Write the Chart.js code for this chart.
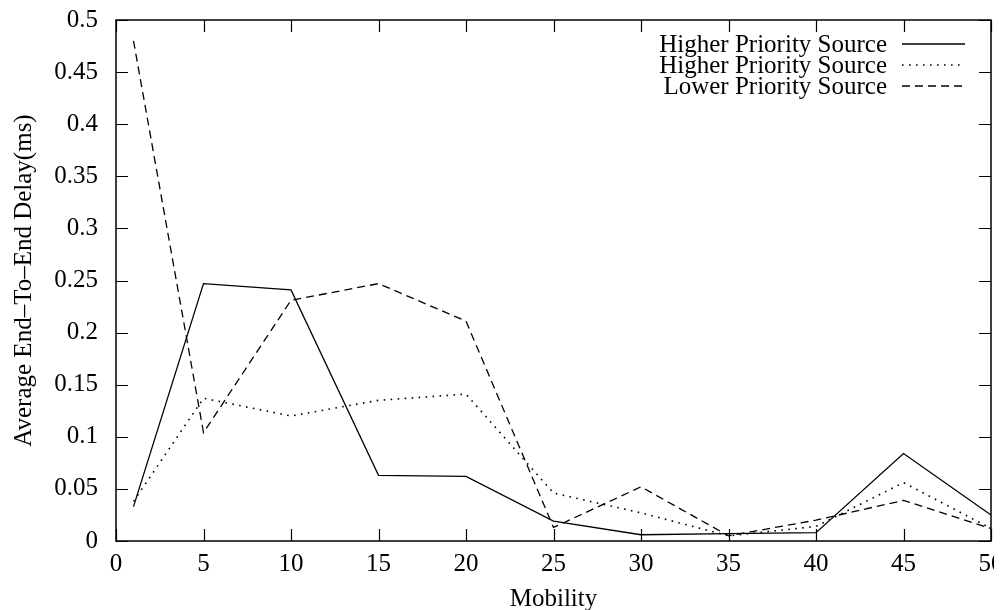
<!DOCTYPE html>
<html>
<head>
<meta charset="utf-8">
<script src="https://cdn.jsdelivr.net/npm/chart.js@4"></script>
<style>
  html, body { margin: 0; padding: 0; background: #fff; }
  #wrap { width: 994px; height: 610px; overflow: hidden; }
</style>
</head>
<body>
<div id="wrap"><canvas id="delayChart" width="994" height="610"></canvas></div>
<script>
const mobility = [1, 5, 10, 15, 20, 25, 30, 35, 40, 45, 50];
const higherSolid = [0.033, 0.247, 0.241, 0.063, 0.062, 0.019, 0.006, 0.007, 0.008, 0.084, 0.025];
const higherDotted = [0.038, 0.137, 0.120, 0.135, 0.141, 0.046, 0.027, 0.005, 0.014, 0.056, 0.012];
const lowerDashed = [0.480, 0.104, 0.231, 0.247, 0.211, 0.013, 0.052, 0.005, 0.020, 0.039, 0.012];
const seriesNames = ['Higher Priority Source', 'Higher Priority Source', 'Lower Priority Source'];
const xTicks = [0, 5, 10, 15, 20, 25, 30, 35, 40, 45, 50];
const yTicks = [0, 0.05, 0.1, 0.15, 0.2, 0.25, 0.3, 0.35, 0.4, 0.45, 0.5];

const FONT = '"Liberation Serif", "DejaVu Serif", serif';
const FONT_SIZE = 25;

function points(ys) {
  return mobility.map((x, i) => ({ x: x, y: ys[i] }));
}

// ticks pointing inward on all four sides of the frame
const innerTicks = {
  id: 'innerTicks',
  afterDraw(chart) {
    const { ctx, chartArea: a, scales } = chart;
    const len = 12;
    ctx.save();
    ctx.strokeStyle = '#000';
    ctx.lineWidth = 1.2;
    ctx.beginPath();
    xTicks.forEach(v => {
      const px = Math.round(scales.x.getPixelForValue(v)) + 0.5;
      ctx.moveTo(px, a.bottom); ctx.lineTo(px, a.bottom - len);
      ctx.moveTo(px, a.top); ctx.lineTo(px, a.top + len);
    });
    yTicks.forEach(v => {
      const py = Math.round(scales.y.getPixelForValue(v)) + 0.5;
      ctx.moveTo(a.left, py); ctx.lineTo(a.left + len, py);
      ctx.moveTo(a.right, py); ctx.lineTo(a.right - len, py);
    });
    ctx.stroke();
    ctx.lineWidth = 1.5;
    ctx.strokeRect(a.left, a.top, a.right - a.left, a.bottom - a.top);
    ctx.restore();
  }
};

// gnuplot style key: text on the left, line sample on the right
const keyBox = {
  id: 'keyBox',
  afterDraw(chart) {
    const ctx = chart.ctx;
    const textRight = 887, lineStart = 902, lineEnd = 965, top = 44, step = 21;
    ctx.save();
    ctx.font = FONT_SIZE + 'px ' + FONT;
    ctx.fillStyle = '#000';
    ctx.textAlign = 'right';
    ctx.textBaseline = 'middle';
    chart.data.datasets.forEach((ds, i) => {
      const y = top + i * step;
      ctx.fillText(ds.label, textRight, y + 1);
      ctx.beginPath();
      ctx.setLineDash(ds.borderDash || []);
      ctx.lineWidth = ds.borderWidth;
      ctx.strokeStyle = ds.borderColor;
      ctx.moveTo(lineStart, y);
      ctx.lineTo(lineEnd, y);
      ctx.stroke();
    });
    ctx.restore();
  }
};

new Chart(document.getElementById('delayChart'), {
  type: 'line',
  data: {
    datasets: [
      { label: seriesNames[0], data: points(higherSolid), borderColor: '#000', borderWidth: 1.3, borderDash: [] },
      { label: seriesNames[1], data: points(higherDotted), borderColor: '#000', borderWidth: 1.6, borderDash: [1.6, 5.4] },
      { label: seriesNames[2], data: points(lowerDashed), borderColor: '#000', borderWidth: 1.3, borderDash: [8, 5] }
    ]
  },
  options: {
    responsive: false,
    animation: false,
    layout: { padding: { top: 20, right: 3, left: 0, bottom: 0 }, autoPadding: false },
    elements: { point: { radius: 0 }, line: { tension: 0 } },
    plugins: { legend: { display: false }, tooltip: { enabled: false } },
    scales: {
      x: {
        type: 'linear', min: 0, max: 50,
        afterBuildTicks: s => { s.ticks = xTicks.map(v => ({ value: v })); },
        afterFit: s => { s.height = 69; s.paddingLeft = 0; s.paddingRight = 0; },
        grid: { display: false },
        border: { display: false },
        ticks: { color: '#000', font: { family: FONT, size: FONT_SIZE }, padding: 0, maxRotation: 0, autoSkip: false },
        title: { display: true, text: 'Mobility', color: '#000', font: { family: FONT, size: FONT_SIZE }, padding: { top: 0, bottom: -4 } }
      },
      y: {
        type: 'linear', min: 0, max: 0.5,
        afterBuildTicks: s => { s.ticks = yTicks.map(v => ({ value: v })); },
        afterFit: s => { s.width = 116; s.paddingTop = 0; s.paddingBottom = 0; },
        grid: { display: false },
        border: { display: false },
        ticks: { color: '#000', font: { family: FONT, size: FONT_SIZE }, padding: 10, callback: v => String(+v.toFixed(2)) },
        title: { display: true, text: 'Average End–To–End Delay(ms)', color: '#000', font: { family: FONT, size: FONT_SIZE }, padding: { top: 9, bottom: 0 } }
      }
    }
  },
  plugins: [innerTicks, keyBox]
});
</script>
</body>
</html>
